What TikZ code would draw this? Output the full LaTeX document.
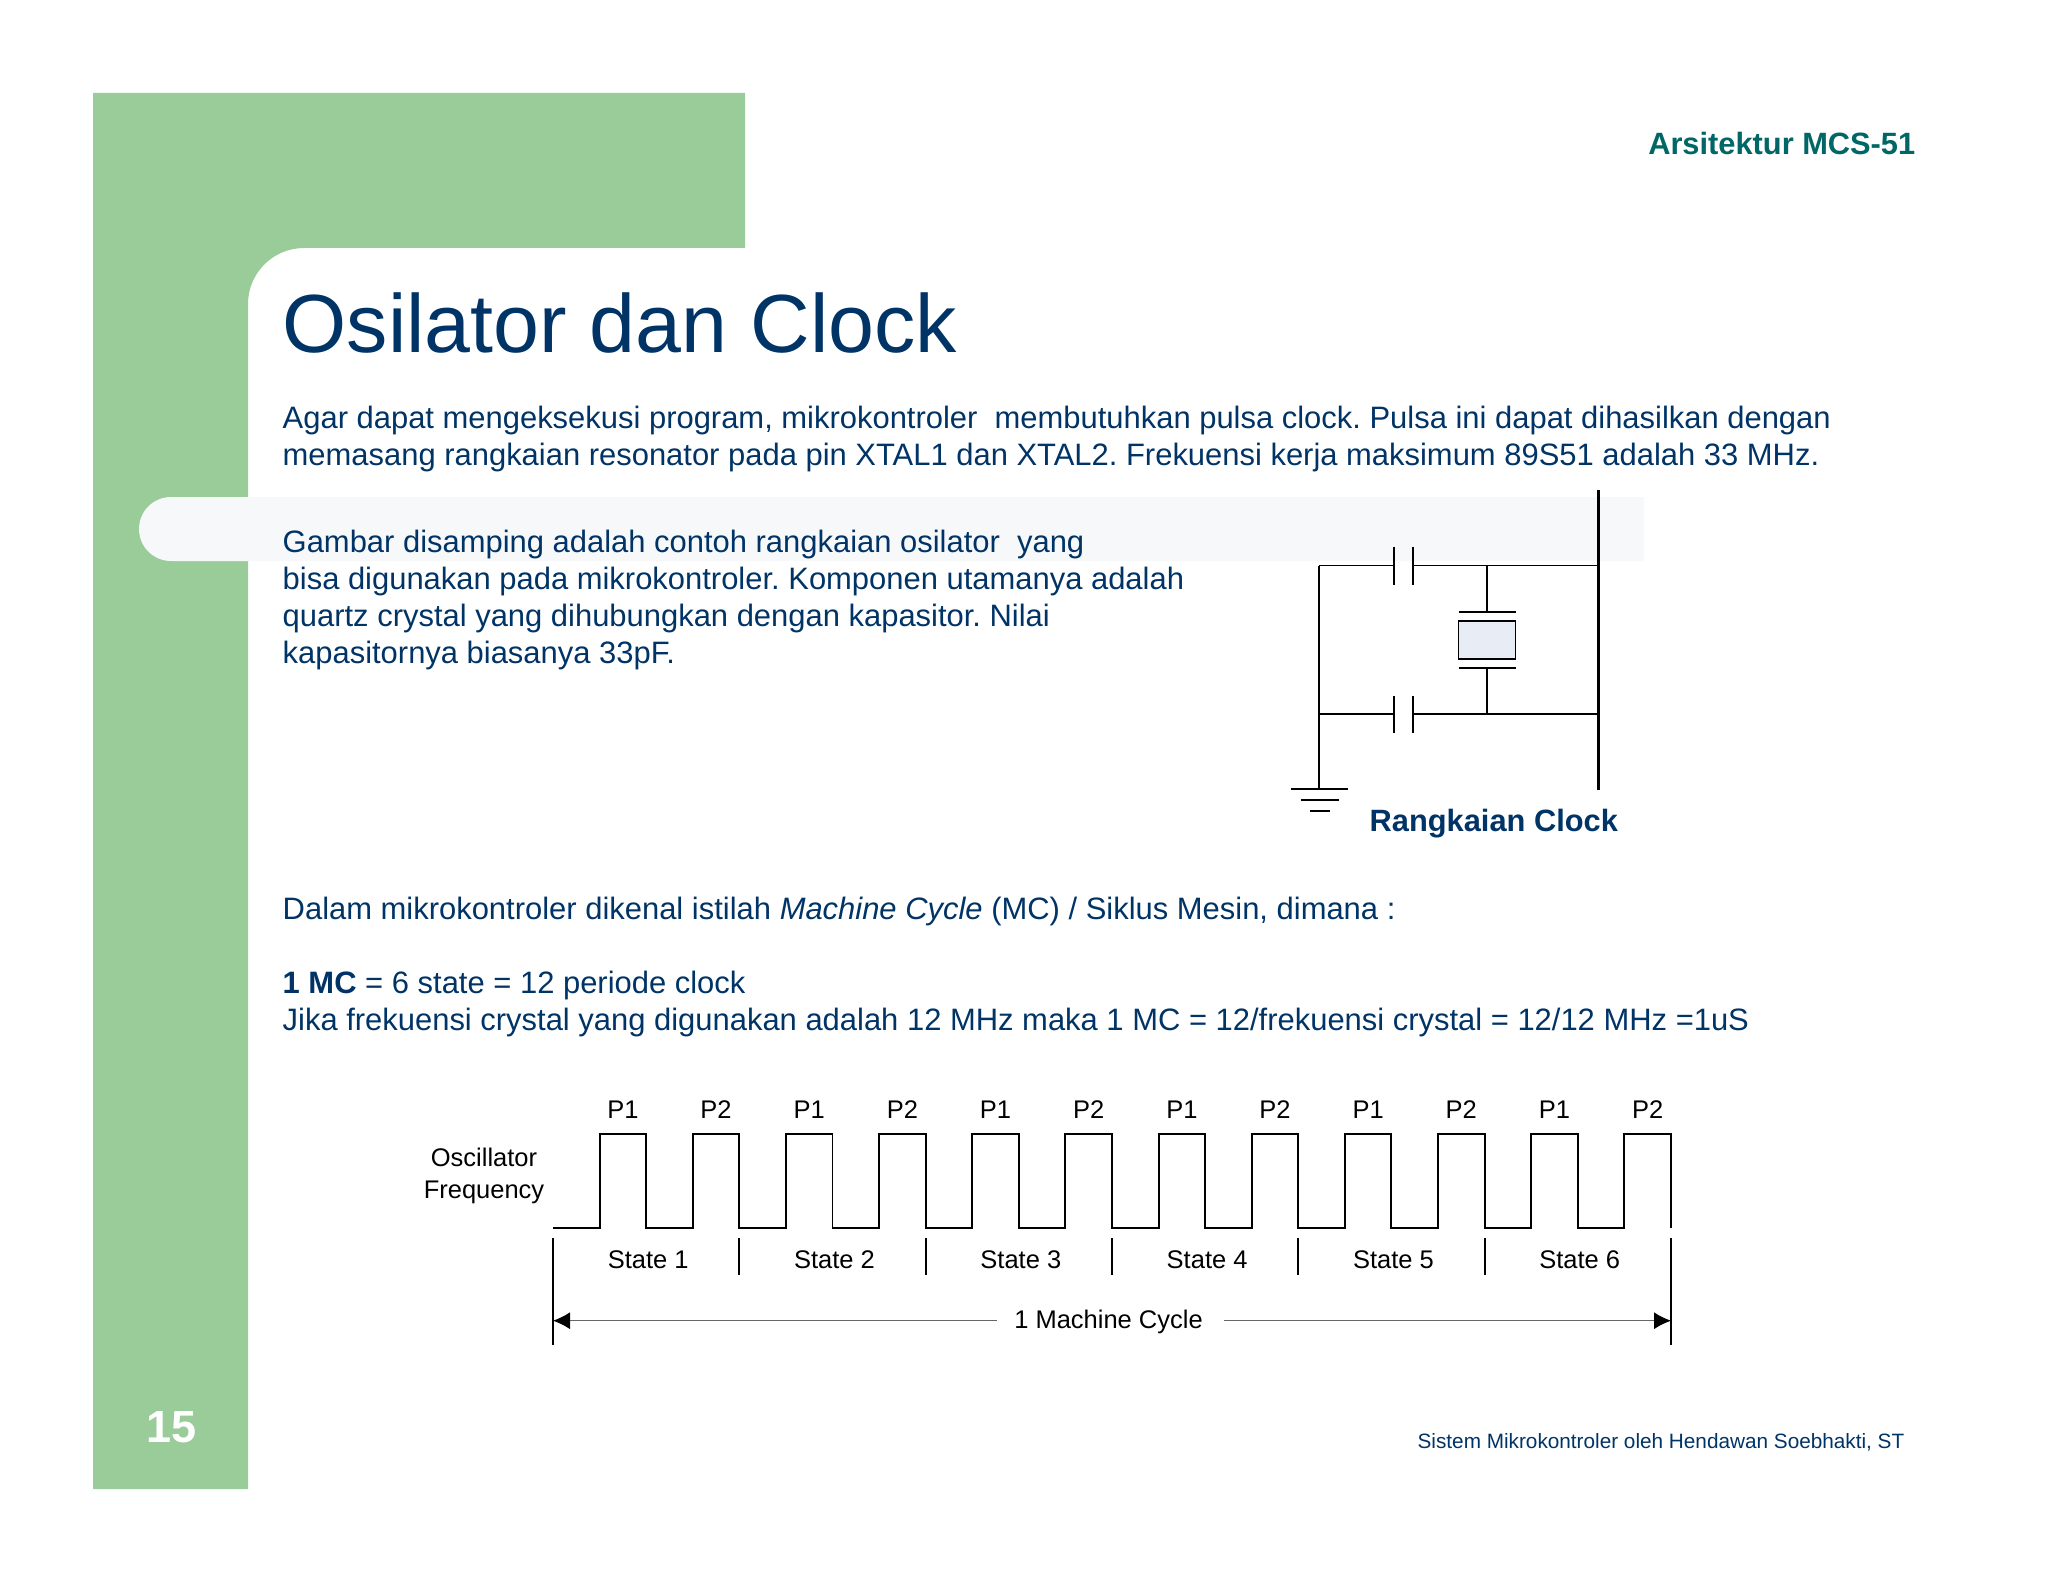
\documentclass[tikz,border=0pt]{standalone}
\usepackage{fontspec}
\setmainfont{Liberation Sans}
\usetikzlibrary{arrows.meta}
\definecolor{slidegreen}{HTML}{99CC99}
\definecolor{slideblue}{HTML}{003366}
\definecolor{slideteal}{HTML}{006666}
\definecolor{bandgray}{HTML}{F7F8FA}
\definecolor{crystalfill}{HTML}{E8ECF4}
\tikzset{
  bodytext/.style={anchor=north west,inner sep=0pt,align=left,text=slideblue,
    font=\fontsize{8.8}{10.53}\selectfont\frenchspacing},
  timelabel/.style={anchor=base,inner sep=0pt,text=black,
    font=\fontsize{7.25}{8.82}\selectfont},
  wire/.style={line width=0.55pt,black},
  buswire/.style={line width=0.85pt,black},
  tickline/.style={line width=0.55pt,black},
  spanline/.style={line width=0.3pt,black!60}
}
\begin{document}
\begin{tikzpicture}[x=0.01cm,y=-0.01cm]
      \useasboundingbox (0,0) rectangle (2048,1582);
      \fill[slidegreen] (93,93) -- (745,93) -- (745,248) -- (304,248)
        arc[start angle=270,end angle=180,radius=56] -- (248,1489) -- (93,1489) -- cycle;
      \fill[bandgray] (1644,497) -- (171,497)
        arc[start angle=270,end angle=90,radius=32] -- (1644,561) -- cycle;
      % header and page texts
      \node[anchor=base east,inner sep=0pt,text=slideteal,font=\fontsize{8.76}{10}\selectfont\bfseries]
        (header) at (1916,155) {Arsitektur MCS-51};
      \node[anchor=base west,inner sep=0pt,text=slideblue,font=\fontsize{23.47}{28}\selectfont]
        (title) at (282,352) {Osilator dan Clock};
      \node[anchor=base,inner sep=0pt,text=white,font=\fontsize{12.8}{15}\selectfont\bfseries]
        (page) at (171.5,1442) {15};
      \node[anchor=base east,inner sep=0pt,text=slideblue,font=\fontsize{5.9}{8}\selectfont]
        (footer) at (1905,1448) {Sistem Mikrokontroler oleh Hendawan Soebhakti, ST};
      % paragraphs
      \node[bodytext] (intro) at (282,405)
        {Agar dapat mengeksekusi program, mikrokontroler\ \ membutuhkan pulsa clock. Pulsa ini dapat dihasilkan dengan\\
         memasang rangkaian resonator pada pin XTAL1 dan XTAL2. Frekuensi kerja maksimum 89S51 adalah 33 MHz.};
      \node[bodytext] (osc) at (282,529)
        {Gambar disamping adalah contoh rangkaian osilator\ \ yang\\
         bisa digunakan pada mikrokontroler. Komponen utamanya adalah\\
         quartz crystal yang dihubungkan dengan kapasitor. Nilai\\
         kapasitornya biasanya 33pF.};
      \node[bodytext] (mcintro) at (282,896)
        {Dalam mikrokontroler dikenal istilah {\itshape Machine Cycle} (MC) / Siklus Mesin, dimana :};
      \node[bodytext] (mcvalue) at (282,970)
        {{\bfseries 1 MC} = 6 state = 12 periode clock\\
         Jika frekuensi crystal yang digunakan adalah 12 MHz maka 1 MC = 12/frekuensi crystal = 12/12 MHz =1uS};
      % clock circuit
      \coordinate (gndtop) at (1319.3,788.7);
      \coordinate (topleft) at (1319.3,565.5);
      \coordinate (botleft) at (1319.3,714.3);
      \coordinate (capAl) at (1394,565.5);
      \coordinate (capAr) at (1412.7,565.5);
      \coordinate (capBl) at (1394,714.3);
      \coordinate (capBr) at (1412.7,714.3);
      \coordinate (topxtal) at (1487,565.5);
      \coordinate (botxtal) at (1487,714.3);
      \coordinate (topbus) at (1598.7,565.5);
      \coordinate (botbus) at (1598.7,714.3);
      \coordinate (busstart) at (1598.7,490);
      \coordinate (busend) at (1598.7,790);
      \node[draw=black,line width=0.5pt,fill=crystalfill,minimum width=0.57cm,minimum height=0.377cm,inner sep=0pt]
        (xtal) at (1487,640) {};
      \coordinate (platetop) at (1487,612);
      \coordinate (platebot) at (1487,667.7);
      \draw[buswire] (busstart) -- (busend);
      \draw[wire] (topleft) -- (gndtop);
      \draw[wire] (topleft) -- (capAl);
      \draw[wire] (capAr) -- (topbus);
      \draw[wire] (botleft) -- (capBl);
      \draw[wire] (capBr) -- (botbus);
      \draw[wire] (topxtal) -- (platetop);
      \draw[wire] (platebot) -- (botxtal);
      \draw[wire] (1394,546.7) -- (1394,584.7);
      \draw[wire] (1412.7,546.7) -- (1412.7,584.7);
      \draw[wire] (1394,695.7) -- (1394,733.3);
      \draw[wire] (1412.7,695.7) -- (1412.7,733.3);
      \draw[wire] (1458.7,612) -- (1515.7,612);
      \draw[wire] (1458.7,667.7) -- (1515.7,667.7);
      \draw[wire] (1291,788.7) -- (1348.3,788.7);
      \draw[wire] (1300.7,800) -- (1339,800);
      \draw[wire] (1310,811.3) -- (1329.7,811.3);
      \node[anchor=base west,inner sep=0pt,text=slideblue,font=\fontsize{8.76}{10}\selectfont\bfseries]
        (circuit) at (1369,831) {Rangkaian Clock};
      % timing diagram
      \node[anchor=base,inner sep=0pt,align=center,text=black,font=\fontsize{7.25}{8.82}\selectfont]
        (oscfreq) at (484,1198) {Oscillator\\Frequency};
      \draw[wire,line join=miter] (553,1227.7)
        \foreach \k in {1,3,...,23} {
          -- ({553+46.58*\k},1227.7) -- ({553+46.58*\k},1134.3)
          -- ({553+46.58*(\k+1)},1134.3) -- ({553+46.58*(\k+1)},1227.7)
        };
      \foreach \k [count=\n from 1] in {1,3,...,23} {
        \pgfmathsetmacro{\pnum}{int(2-mod(\n,2))}
        \node[timelabel] (pulse\n) at ({553+46.58*(\k+0.5)},1118.3) {P\pnum};
      }
      \foreach \s in {1,...,6} {
        \node[timelabel] (state\s) at ({555+186.32*(\s-0.5)},1268) {State \s};
      }
      \foreach \s in {1,...,5} {
        \draw[tickline] ({553+186.32*\s},1238.3) -- ({553+186.32*\s},1275);
      }
      \coordinate (spanAtop) at (553,1238.3);
      \coordinate (spanAbot) at (553,1345);
      \coordinate (spanBtop) at (1671,1238.3);
      \coordinate (spanBbot) at (1671,1345);
      \draw[tickline] (spanAtop) -- (spanAbot);
      \draw[tickline] (spanBtop) -- (spanBbot);
      \node[timelabel] (cycle) at (1108.5,1328.5) {1 Machine Cycle};
      \coordinate (arrowA) at (553,1320.7);
      \coordinate (arrowB) at (1671,1320.7);
      \coordinate (gapA) at (997,1320.7);
      \coordinate (gapB) at (1224.4,1320.7);
      \draw[spanline,-{Latex[length=0.17cm,width=0.17cm,black]}] (gapA) -- (arrowA);
      \draw[spanline,-{Latex[length=0.17cm,width=0.17cm,black]}] (gapB) -- (arrowB);
    \end{tikzpicture}
\end{document}
